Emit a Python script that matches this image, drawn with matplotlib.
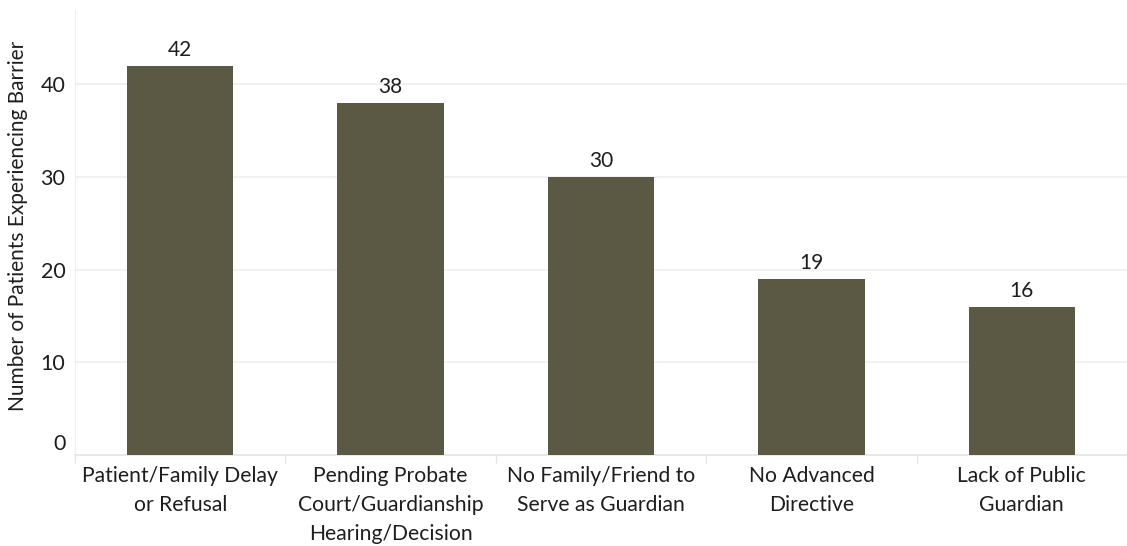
import matplotlib
matplotlib.use('Agg')
import matplotlib.pyplot as plt
import matplotlib.transforms as mtransforms
import numpy as np

categories = [
    'Patient/Family Delay\nor Refusal',
    'Pending Probate\nCourt/Guardianship\nHearing/Decision',
    'No Family/Friend to\nServe as Guardian',
    'No Advanced\nDirective',
    'Lack of Public\nGuardian',
]
counts = [42, 38, 30, 19, 16]
y_ticks = [0, 10, 20, 30, 40]

bar_color = '#5b5844'
grid_color = '#efefef'
text_color = '#1e1e1e'

fig = plt.figure(figsize=(11.27, 5.46), dpi=100)
fig.patch.set_facecolor('white')
ax = fig.add_axes([75 / 1127, 91 / 546, 1052 / 1127, 445 / 546])

x = np.arange(len(categories))
bars = ax.bar(x, counts, width=0.505, color=bar_color, zorder=3)

# value labels above bars
for rect, val in zip(bars, counts):
    ax.annotate(str(val), (rect.get_x() + rect.get_width() / 2, rect.get_height()),
                xytext=(0, 4), textcoords='offset points', ha='center', va='bottom',
                fontsize=15, color=text_color, family='Lato')

ax.set_xlim(-0.5, 4.46)
ax.set_ylim(0, 48)

# y axis
ax.set_yticks(y_ticks)
ax.set_yticklabels([str(v) for v in y_ticks], fontsize=15.5, family='Lato', color=text_color)
ax.tick_params(axis='y', length=0, pad=7)
ax.yaxis.grid(True, color=grid_color, linewidth=1.2, zorder=0)
# lift the zero label a little above the baseline
zero_lbl = ax.get_yticklabels()[0]
zero_lbl.set_transform(zero_lbl.get_transform() +
                       mtransforms.ScaledTranslation(0, 13 / 100, fig.dpi_scale_trans))

ax.set_ylabel('Number of Patients Experiencing Barrier', fontsize=15,
              family='Lato', color=text_color)
ax.yaxis.set_label_coords(-0.045, 0.515)

# x axis
ax.set_xticks(x)
ax.set_xticklabels(categories, fontsize=15.2, family='Lato', color=text_color,
                   linespacing=1.55)
ax.tick_params(axis='x', which='major', length=0, pad=8)
ax.set_xticks(np.arange(-0.5, len(categories), 1.0), minor=True)
ax.tick_params(axis='x', which='minor', length=6, color='#e6e6e6', width=1)

for side in ['top', 'right']:
    ax.spines[side].set_visible(False)
ax.spines['left'].set_color('#eeeeee')
ax.spines['bottom'].set_color('#e6e6e6')
ax.spines['bottom'].set_linewidth(1.2)

fig.savefig('out.png', dpi=100)
